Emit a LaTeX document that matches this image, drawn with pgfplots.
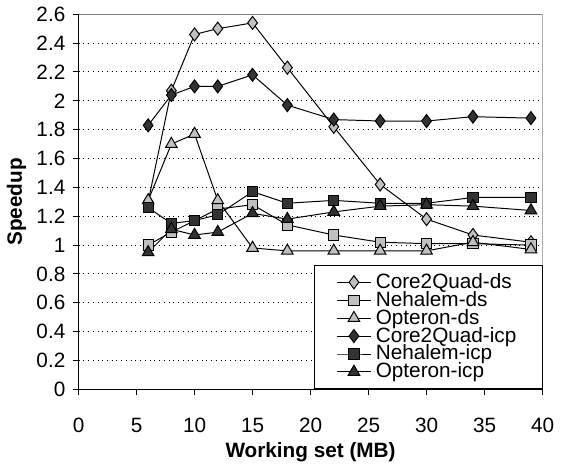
\documentclass[border=0pt]{standalone}
\usepackage{fontspec}
\setmainfont{Liberation Sans}
\usepackage{pgfplots}
\pgfplotsset{compat=1.18}
\definecolor{lg}{RGB}{192,192,192}
\definecolor{dg}{RGB}{50,50,50}
\begin{document}
\fontsize{10.5}{12.6}\selectfont
\begin{tikzpicture}
\begin{axis}[
 scale only axis, width=235pt, height=190pt,
 xmin=0, xmax=40, ymin=0, ymax=2.6,
 xtick={0,5,10,15,20,25,30,35,40},
 ytick={0,0.2,0.4,0.6,0.8,1,1.2,1.4,1.6,1.8,2,2.2,2.4,2.6},
 yticklabels={0,0.2,0.4,0.6,0.8,1,1.2,1.4,1.6,1.8,2,2.2,2.4,2.6},
 axis x line*=bottom, axis y line*=left,
 axis line style={black, line width=0.6pt},
 tick align=outside, major tick length=3pt,
 tick style={black, line width=0.5pt},
 ymajorgrids, grid style={dotted, black, line width=0.5pt},
 /pgf/number format/assume math mode=true,
 ticklabel style={font=\fontsize{10.5}{12}\selectfont},
 xticklabel style={yshift=-8pt},
 xlabel={\bfseries Working set (MB)}, ylabel={\bfseries Speedup},
 xlabel style={yshift=2.5pt},
 ylabel style={yshift=-2pt},
 legend style={at={(1,0)}, anchor=south east, draw=black, line width=0.5pt,
   cells={anchor=west}, row sep=-4.1pt, font=\fontsize{10.5}{12}\selectfont,
   inner xsep=11pt, inner ysep=2pt},
 legend image code/.code={\draw[mark repeat=2,mark phase=2] plot coordinates {(0cm,0cm) (0.31cm,0cm) (0.62cm,0cm)};},
 every axis plot/.append style={black, line width=0.5pt, mark options={solid, line width=0.4pt}},
]
\addplot[mark=diamond*, mark size=3.3pt, mark options={fill=lg, draw=black}] coordinates {
(6,1.30) (8,2.07) (10,2.46) (12,2.50) (15,2.54) (18,2.23) (22,1.82) (26,1.42) (30,1.18) (34,1.07) (39,1.02)};
\addlegendentry{Core2Quad-ds}
\addplot[mark=square*, mark size=2.6pt, mark options={fill=lg, draw=black}] coordinates {
(6,1.00) (8,1.09) (10,1.17) (12,1.25) (15,1.28) (18,1.14) (22,1.07) (26,1.02) (30,1.01) (34,1.01) (39,1.00)};
\addlegendentry{Nehalem-ds}
\addplot[mark=triangle*, mark size=3.4pt, mark options={fill=lg, draw=black}] coordinates {
(6,1.31) (8,1.70) (10,1.77) (12,1.31) (15,0.98) (18,0.96) (22,0.96) (26,0.96) (30,0.96) (34,1.02) (39,0.97)};
\addlegendentry{Opteron-ds}
\addplot[mark=diamond*, mark size=3.3pt, mark options={fill=dg, draw=black}] coordinates {
(6,1.83) (8,2.04) (10,2.10) (12,2.10) (15,2.18) (18,1.97) (22,1.87) (26,1.86) (30,1.86) (34,1.89) (39,1.88)};
\addlegendentry{Core2Quad-icp}
\addplot[mark=square*, mark size=2.6pt, mark options={fill=dg, draw=black}] coordinates {
(6,1.26) (8,1.15) (10,1.17) (12,1.21) (15,1.37) (18,1.29) (22,1.31) (26,1.29) (30,1.29) (34,1.33) (39,1.33)};
\addlegendentry{Nehalem-icp}
\addplot[mark=triangle*, mark size=3.4pt, mark options={fill=dg, draw=black}] coordinates {
(6,0.95) (8,1.11) (10,1.07) (12,1.09) (15,1.22) (18,1.18) (22,1.23) (26,1.27) (30,1.28) (34,1.27) (39,1.24)};
\addlegendentry{Opteron-icp}
\draw[gray, line width=0.6pt] (rel axis cs:0,1) -- (rel axis cs:1,1) -- (rel axis cs:1,0);
\end{axis}
\end{tikzpicture}
\end{document}
